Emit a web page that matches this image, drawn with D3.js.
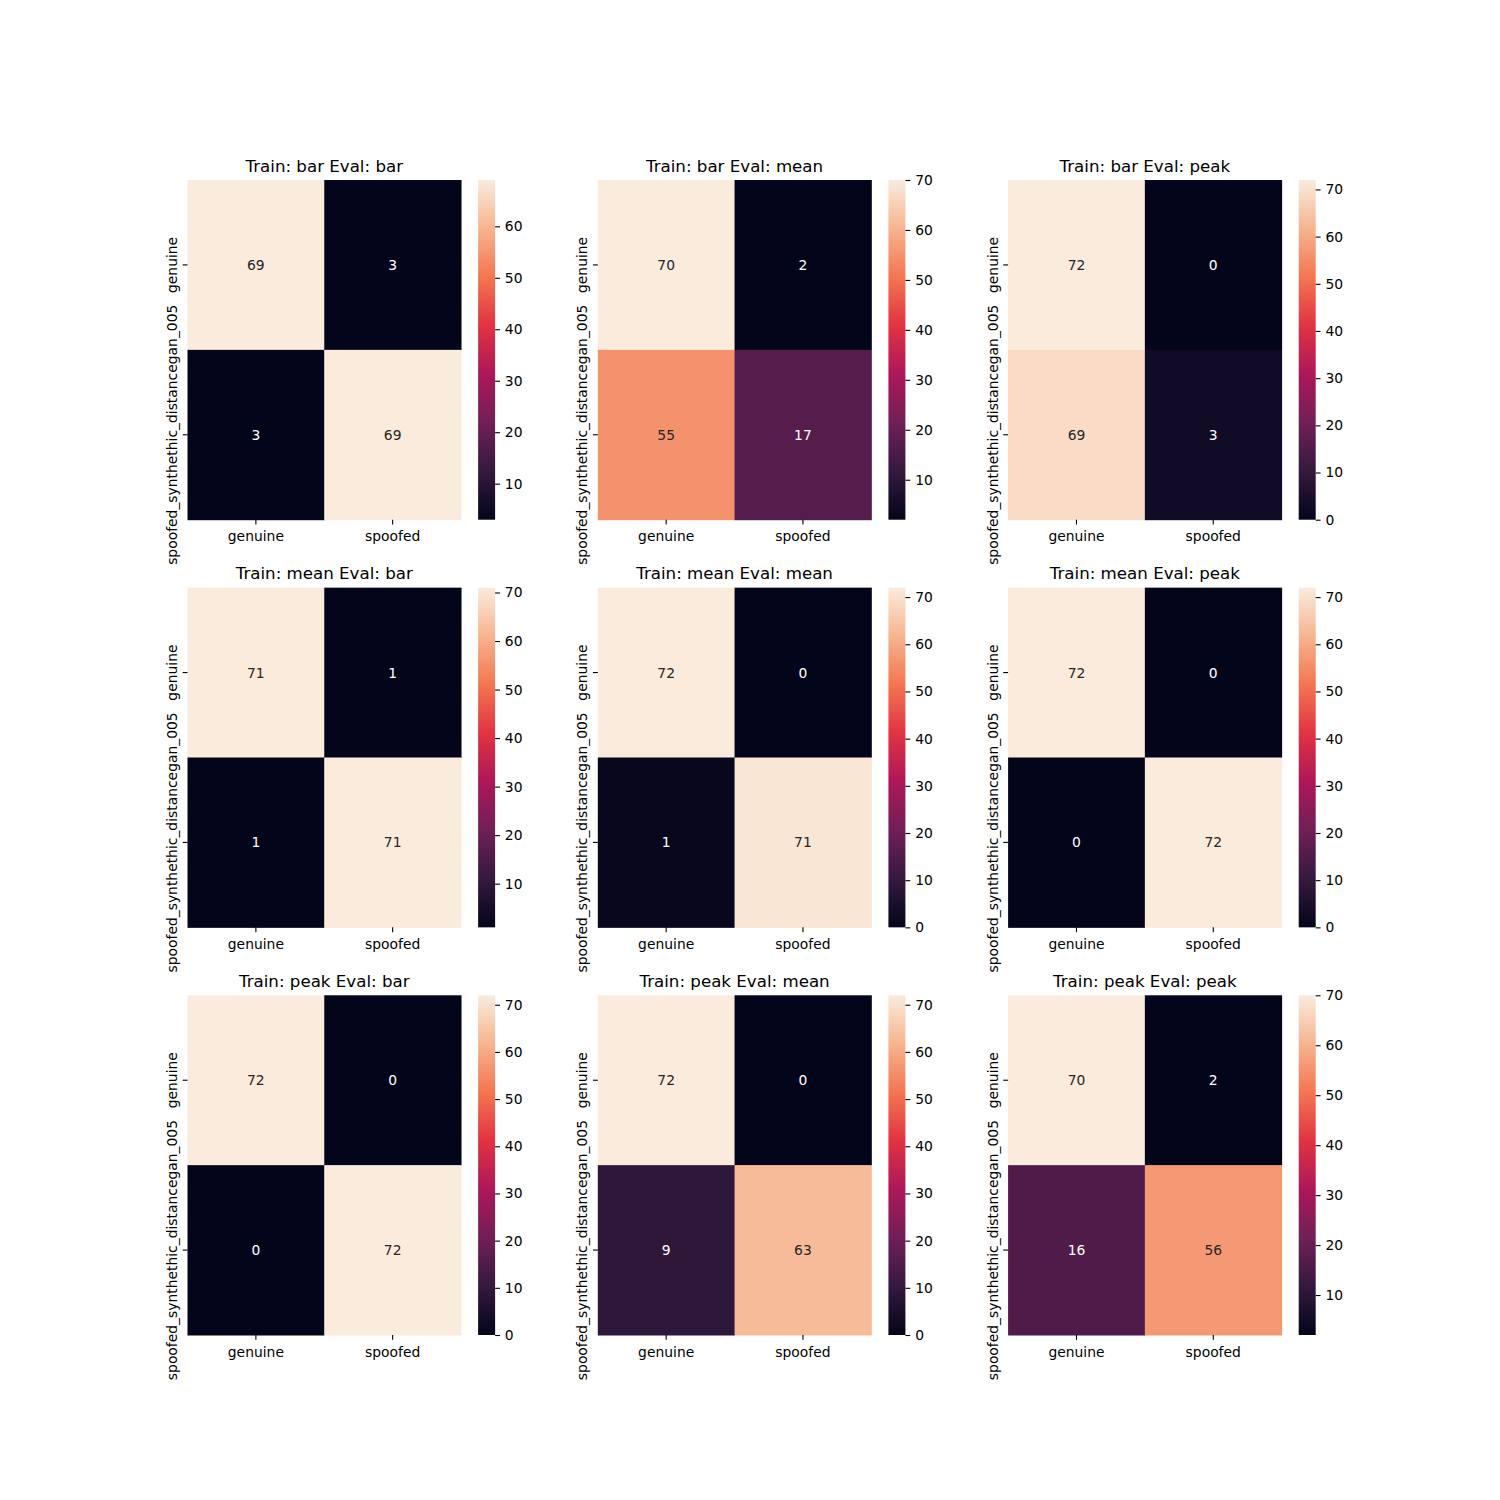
<!DOCTYPE html>
<html>
<head>
<meta charset="utf-8">
<script src="https://cdn.jsdelivr.net/npm/d3@7"></script>
<style>
  body { margin: 0; background: #fff; }
  text { font-family: "DejaVu Sans", sans-serif; }
</style>
</head>
<body>
<svg id="fig" width="1500" height="1500"></svg>
<script>
const TRAIN = ['bar', 'mean', 'peak'];
const EVAL = ['bar', 'mean', 'peak'];
const COL_LABELS = ['genuine', 'spoofed'];
const ROW_LABELS = ['genuine', 'spoofed_synthethic_distancegan_005'];

// one confusion matrix per panel (rows = true, cols = predicted)
const barBar   = [[69, 3], [3, 69]];
const barMean  = [[70, 2], [55, 17]];
const barPeak  = [[72, 0], [69, 3]];
const meanBar  = [[71, 1], [1, 71]];
const meanMean = [[72, 0], [1, 71]];
const meanPeak = [[72, 0], [0, 72]];
const peakBar  = [[72, 0], [0, 72]];
const peakMean = [[72, 0], [9, 63]];
const peakPeak = [[70, 2], [16, 56]];
const MATRICES = [
    [barBar, barMean, barPeak],
    [meanBar, meanMean, meanPeak],
    [peakBar, peakMean, peakPeak],
];

// seaborn "rocket", sampled
const ROCKET = ['#03051a', '#35193e', '#701f57', '#ad1759', '#e13342', '#f37651', '#f6b48f', '#faebdd'];
const ROCKET_POS = ROCKET.map((_, i) => i / (ROCKET.length - 1));

const W = 1500, H = 1500;
const links = 0.125 * W, rechts = 0.9 * W;
const boven = (1 - 0.88) * H, onder = (1 - 0.11) * H;
const kolomB = (rechts - links) / (3 + 2 * 0.2);
const rijH = (onder - boven) / (3 + 2 * 0.2);
const tick = 3.5 * 100 / 72;
const fontKlein = 10 * 100 / 72;
const fontTitel = 12 * 100 / 72;

const rocket = d3.scaleLinear().domain(ROCKET_POS).range(ROCKET).interpolate(d3.interpolateRgb);

function luminantie(kleur) {
    const c = d3.rgb(kleur);
    const lin = v => { v /= 255; return v <= 0.03928 ? v / 12.92 : Math.pow((v + 0.055) / 1.055, 2.4); };
    return 0.2126 * lin(c.r) + 0.7152 * lin(c.g) + 0.0722 * lin(c.b);
}

const svg = d3.select('#fig');
svg.append('rect').attr('width', W).attr('height', H).attr('fill', '#fff');

const defs = svg.append('defs');
const grad = defs.append('linearGradient').attr('id', 'rocket-grad')
    .attr('x1', 0).attr('y1', 1).attr('x2', 0).attr('y2', 0);
ROCKET.forEach((k, i) => grad.append('stop').attr('offset', ROCKET_POS[i]).attr('stop-color', k));

TRAIN.forEach((tr, r) => {
    EVAL.forEach((ev, c) => {
        const data = MATRICES[r][c];
        const x0 = links + c * kolomB * 1.2;
        const y0 = boven + r * rijH * 1.2;
        const asB = kolomB * 0.8;
        const g = svg.append('g').attr('transform', `translate(${x0},${y0})`);

        const vals = data.flat();
        const vmin = d3.min(vals), vmax = d3.max(vals);
        const kleur = v => rocket((v - vmin) / (vmax - vmin));

        const x = d3.scaleBand().domain(COL_LABELS).range([0, asB]);
        const y = d3.scaleBand().domain(ROW_LABELS).range([0, rijH]);

        const cellen = [];
        data.forEach((rij, i) => rij.forEach((v, j) => cellen.push({ rij: ROW_LABELS[i], kol: COL_LABELS[j], v })));

        g.selectAll('rect.cel').data(cellen).enter().append('rect')
            .attr('class', 'cel')
            .attr('x', d => x(d.kol))
            .attr('y', d => y(d.rij))
            .attr('width', x.bandwidth() + 0.5)
            .attr('height', y.bandwidth() + 0.5)
            .attr('fill', d => kleur(d.v));

        g.selectAll('text.annot').data(cellen).enter().append('text')
            .attr('class', 'annot')
            .attr('x', d => x(d.kol) + x.bandwidth() / 2)
            .attr('y', d => y(d.rij) + y.bandwidth() / 2)
            .attr('text-anchor', 'middle')
            .attr('dominant-baseline', 'central')
            .style('font-size', fontKlein + 'px')
            .style('fill', d => luminantie(kleur(d.v)) > 0.408 ? '#262626' : '#fff')
            .text(d => d.v);

        // x-as
        COL_LABELS.forEach(l => {
            const cx = x(l) + x.bandwidth() / 2;
            g.append('line').attr('x1', cx).attr('x2', cx).attr('y1', rijH).attr('y2', rijH + tick)
                .attr('stroke', '#000').attr('stroke-width', 1.1);
            g.append('text').attr('x', cx).attr('y', rijH + tick + 4.9 + 12)
                .attr('text-anchor', 'middle').style('font-size', fontKlein + 'px').style('fill', '#000')
                .text(l);
        });

        // y-as
        ROW_LABELS.forEach(l => {
            const cy = y(l) + y.bandwidth() / 2;
            g.append('line').attr('x1', -tick).attr('x2', 0).attr('y1', cy).attr('y2', cy)
                .attr('stroke', '#000').attr('stroke-width', 1.1);
            g.append('text')
                .attr('transform', `translate(${-tick - 4.9 - 0.6},${cy}) rotate(-90)`)
                .attr('text-anchor', 'middle').style('font-size', fontKlein + 'px').style('fill', '#000')
                .text(l);
        });

        // titel
        g.append('text').attr('x', asB / 2).attr('y', -8.3)
            .attr('text-anchor', 'middle').style('font-size', fontTitel + 'px').style('fill', '#000')
            .text(`Train: ${tr} Eval: ${ev}`);

        // kleurenbalk
        const cbX = kolomB * 0.85;
        const cbB = rijH / 20;
        const cb = g.append('g').attr('transform', `translate(${cbX},0)`);
        cb.append('rect').attr('width', cbB).attr('height', rijH).attr('fill', 'url(#rocket-grad)');
        const cbSchaal = d3.scaleLinear().domain([vmin, vmax]).range([rijH, 0]);
        const as = cb.append('g').attr('transform', `translate(${cbB},0)`)
            .call(d3.axisRight(cbSchaal).ticks(7).tickSize(tick).tickPadding(4.9));
        as.select('.domain').remove();
        as.selectAll('line').attr('stroke', '#000').attr('stroke-width', 1.1);
        as.selectAll('text').style('font-size', fontKlein + 'px').style('fill', '#000')
            .style('font-family', '"DejaVu Sans", sans-serif');
    });
});
</script>
</body>
</html>
